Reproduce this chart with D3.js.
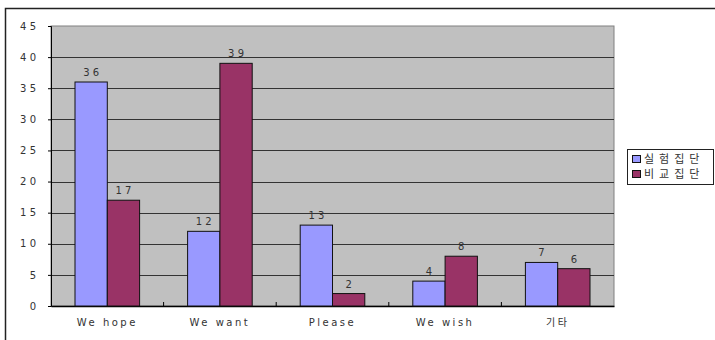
<!DOCTYPE html>
<html>
<head>
<meta charset="utf-8">
<script src="https://cdn.jsdelivr.net/npm/d3@7"></script>
<style>
  body { margin: 0; background: #fff; }
  svg text { font-family: "DejaVu Sans", "Noto Sans CJK KR", sans-serif; fill: #333; }
</style>
</head>
<body>
<svg id="chart" width="715" height="340"></svg>
<script>
(function () {
  'use strict';

  // data
  var categories = ['We hope', 'We want', 'Please', 'We wish', '기타'];
  var seriesNames = ['실험집단', '비교집단'];
  var experimental = [36, 12, 13, 4, 7];
  var comparison = [17, 39, 2, 8, 6];
  var yTicks = [0, 5, 10, 15, 20, 25, 30, 35, 40, 45];
  var colors = ['#9999ff', '#993366'];

  var svg = d3.select('#chart');
  var margin = { top: 26, left: 51 };
  var width = 563, height = 280;

  // outer frame (only top and left edges fall inside the picture)
  svg.append('path')
    .attr('d', 'M5.5,345 V8.5 H720')
    .attr('fill', 'none')
    .attr('stroke', '#222')
    .attr('stroke-width', 1.5);

  var g = svg.append('g')
    .attr('transform', 'translate(' + margin.left + ',' + margin.top + ')');

  var x = d3.scaleBand().domain(categories).range([0, width]);
  var x1 = d3.scaleBand().domain([0, 1]).range([24, x.bandwidth() - 24]);
  var y = d3.scaleLinear().domain([0, 45]).range([height, 0]);

  g.append('rect')
    .attr('width', width).attr('height', height)
    .attr('fill', '#c0c0c0')
    .attr('stroke', '#808080');

  g.selectAll('.grid')
    .data(yTicks.slice(1, -1))
    .enter().append('line')
    .attr('x1', 0).attr('x2', width)
    .attr('y1', function (d) { return Math.round(y(d)) + 0.5; })
    .attr('y2', function (d) { return Math.round(y(d)) + 0.5; })
    .attr('stroke', '#333');

  var yAxis = g.append('g')
    .call(d3.axisLeft(y).tickValues(yTicks).tickSize(3).tickPadding(12)
      .tickFormat(function (d) { return String(d).split('').join(' '); }));
  yAxis.select('.domain').attr('stroke', '#000');
  yAxis.selectAll('.tick line').attr('stroke', '#000');
  yAxis.selectAll('text').style('font-size', '10px').attr('fill', '#333');

  var xAxis = g.append('g')
    .attr('transform', 'translate(0,' + height + ')')
    .call(d3.axisBottom(x).tickSize(0).tickPadding(13));
  xAxis.select('.domain').attr('stroke', '#000').attr('stroke-width', 1.5);
  xAxis.selectAll('text')
    .style('font-size', '10px')
    .style('letter-spacing', '2.5px')
    .attr('fill', '#333');

  // category separators
  g.selectAll('.sep')
    .data(categories.slice(1))
    .enter().append('line')
    .attr('x1', function (d) { return x(d); })
    .attr('x2', function (d) { return x(d); })
    .attr('y1', height - 4).attr('y2', height)
    .attr('stroke', '#000');

  var series = [experimental, comparison];
  series.forEach(function (vals, s) {
    var bars = g.append('g');
    bars.selectAll('rect')
      .data(vals)
      .enter().append('rect')
      .attr('x', function (d, i) { return x(categories[i]) + x1(s); })
      .attr('y', function (d) { return y(d); })
      .attr('width', x1.bandwidth())
      .attr('height', function (d) { return height - y(d); })
      .attr('fill', colors[s])
      .attr('stroke', '#111');
    bars.selectAll('text')
      .data(vals)
      .enter().append('text')
      .attr('x', function (d, i) { return x(categories[i]) + x1(s) + x1.bandwidth() / 2; })
      .attr('y', function (d) { return y(d) - 6; })
      .attr('text-anchor', 'middle')
      .style('font-size', '10px')
      .text(function (d) { return String(d).split('').join(' '); });
  });

  // legend
  var lg = svg.append('g').attr('transform', 'translate(627,149)');
  lg.append('rect')
    .attr('x', 0.5).attr('y', 0.5)
    .attr('width', 86).attr('height', 35)
    .attr('fill', '#fff').attr('stroke', '#222');
  seriesNames.forEach(function (name, i) {
    lg.append('rect')
      .attr('x', 5.5).attr('y', 6.5 + i * 15)
      .attr('width', 8).attr('height', 7)
      .attr('fill', colors[i]).attr('stroke', '#111');
    lg.append('text')
      .attr('x', 17).attr('y', 14 + i * 15)
      .style('font-size', '11px')
      .style('letter-spacing', '5px')
      .text(name);
  });
}());
</script>
</body>
</html>
